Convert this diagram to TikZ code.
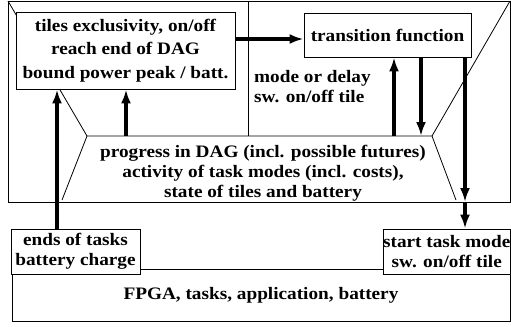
\documentclass[tikz,border=0pt]{standalone}
\usepackage{fontspec}
\setmainfont{Liberation Serif}[FakeStretch=1.10]
\usetikzlibrary{arrows.meta}
\begin{document}
\begin{tikzpicture}[x=1bp,y=-1bp,
  thinline/.style={line width=0.8bp},
  txt/.style={font=\bfseries\fontsize{17.5bp}{20bp}\selectfont},
  box/.style={draw, fill=white, line width=0.8bp, inner sep=0pt, align=center, txt},
  lbl/.style={inner sep=0pt, align=center, txt},
  arr/.style={line width=3.3bp, -{Latex[length=14bp,width=10bp]}}]
\useasboundingbox (0,0) rectangle (511,326);

% frame and perspective lines
\coordinate (otl) at (8,1);
\coordinate (otr) at (510,1);
\coordinate (obr) at (510,202);
\coordinate (itl) at (87,136);
\coordinate (itr) at (432,136);
\coordinate (ibl) at (62,200);
\coordinate (ibr) at (456,200);
\coordinate (vt) at (248,1);
\coordinate (vb) at (248,136);
\draw[thinline] (otl) rectangle (obr);
\draw[thinline] (otl) -- (itl) -- (itr) -- (otr);
\draw[thinline] (ibl) -- (itl);
\draw[thinline] (itr) -- (ibr);
\draw[thinline] (vt) -- (vb);

% boxes
\node[box, minimum width=219bp, minimum height=77bp,
      font=\bfseries\fontsize{17.5bp}{23.5bp}\selectfont] (lim) at (125.5,50.5)
  {tiles exclusivity, on/off\\reach end of DAG\\bound power peak / batt.};
\node[box, minimum width=167bp, minimum height=44bp] (tf) at (387.5,35) {transition function};
\node[box, minimum width=498bp, minimum height=52bp] (fpga) at (261,295)
  {FPGA, tasks, application, battery};
\node[box, minimum width=129bp, minimum height=45bp] (ends) at (75.5,251.5)
  {ends of tasks\\battery charge};
\node[box, minimum width=127.5bp, minimum height=45bp] (start) at (446.75,251.5)
  {start task mode\\sw. on/off tile};

% texts
\node[lbl, anchor=west, align=left] (mode) at (254,87) {mode or delay\\sw. on/off tile};
\node[lbl] (prog) at (263,173)
  {progress in DAG (incl. possible futures)\\activity of task modes (incl. costs),\\state of tiles and battery};

% arrows
\coordinate (p1) at (126,136);
\coordinate (p2) at (394,136);
\coordinate (p3) at (421,136);
\coordinate (q1) at (465,202);
\draw[arr] (lim.east |- 0,39) -- (tf.west |- 0,39);
\draw[arr] (ends.north -| 57,0) -- (lim.south -| 57,0);
\draw[arr] (p1) -- (lim.south -| p1);
\draw[arr] (p2) -- (tf.south -| p2);
\draw[arr] (tf.south -| p3) -- (p3);
\draw[arr] (tf.south -| q1) -- (q1);
\draw[arr] (q1) -- (start.north -| q1);
\end{tikzpicture}
\end{document}
